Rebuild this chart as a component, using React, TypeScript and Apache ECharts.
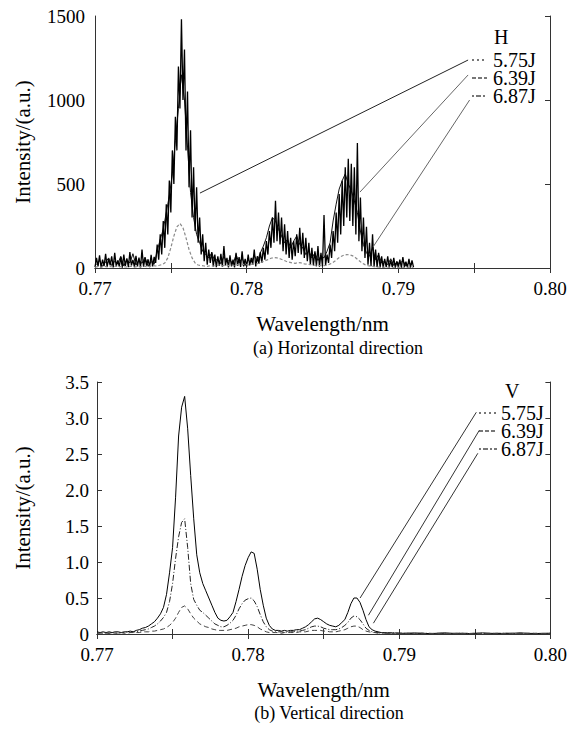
import React, { useEffect, useRef } from "react";
import * as echarts from "echarts";

// ---------- data ----------
// (a) Horizontal direction: intensity (a.u.) sampled across wavelength (nm)
const H_575_START = 0.77;
const H_575_STEP = 0.0001;
const H_575 = [
  5, 60, 10, 75, 3, 50, 12, 85, 6, 55,
  15, 70, 4, 90, 10, 45, 8, 65, 2, 80,
  12, 58, 5, 95, 15, 48, 6, 72, 10, 62,
  3, 110, 8, 60, 14, 52, 5, 78, 10, 66,
  30, 140, 50, 200, 80, 280, 120, 380, 200, 520,
  330, 700, 500, 900, 700, 1200, 950, 1480, 1000, 1300,
  700, 1050, 480, 820, 300, 600, 220, 480, 150, 300,
  80, 200, 40, 150, 20, 110, 30, 95, 10, 80,
  5, 70, 12, 85, 8, 130, 15, 60, 4, 75,
  10, 50, 3, 90, 12, 65, 6, 100, 10, 55,
  8, 80, 15, 60, 20, 110, 10, 70, 25, 95,
  30, 120, 50, 160, 80, 220, 120, 300, 150, 400,
  160, 330, 140, 300, 100, 260, 80, 220, 60, 180,
  50, 160, 70, 200, 90, 240, 80, 210, 60, 180,
  40, 150, 20, 120, 15, 100, 10, 130, 8, 90,
  10, 315, 15, 80, 30, 140, 60, 220, 100, 330,
  150, 440, 200, 520, 250, 600, 300, 650, 280, 620,
  250, 600, 200, 744, 160, 420, 100, 300, 60, 245,
  20, 150, 10, 200, 8, 110, 5, 90, 3, 70,
  2, 55, 5, 70, 3, 45, 6, 60, 2, 40,
  4, 50, 2, 65, 5, 38, 3, 55, 2, 45, 5,
];
const H_639_START = 0.7701;
const H_639_STEP = 0.0002;
const H_639 = [
  20, 45, 10, 35, 60, 15, 40, 25, 70, 12,
  50, 30, 85, 18, 44, 28, 65, 10, 38, 22,
  100, 170, 230, 330, 430, 560, 760, 950, 1150, 1000,
  720, 450, 300, 200, 150, 100, 80, 60, 90, 40,
  55, 25, 70, 35, 50, 20, 80, 30, 60, 15,
  45, 35, 75, 40, 90, 130, 180, 250, 300, 280,
  230, 190, 150, 170, 120, 160, 190, 140, 120, 80,
  100, 60, 90, 45, 70, 60, 100, 150, 280, 380,
  470, 520, 560, 500, 460, 400, 330, 220, 140, 90,
  70, 120, 50, 80, 30, 40, 20, 55, 15, 35,
  25, 45, 12, 30, 20,
];
const H_687_START = 0.77;
const H_687_STEP = 0.0002;
const H_687 = [
  5, 8, 4, 10, 6, 9, 5, 12, 7, 10,
  6, 8, 11, 5, 9, 7, 12, 8, 10, 15,
  12, 15, 20, 30, 60, 120, 190, 245, 265, 240,
  180, 110, 60, 30, 18, 15, 12, 10, 14, 12,
  15, 18, 13, 16, 14, 18, 15, 20, 17, 22,
  20, 18, 24, 22, 28, 35, 42, 50, 58, 62,
  60, 55, 48, 40, 35, 30, 28, 32, 30, 25,
  22, 20, 18, 16, 15, 14, 16, 20, 28, 40,
  55, 68, 76, 80, 78, 72, 60, 45, 30, 20,
  14, 10, 8, 6, 5, 6, 4, 5, 3, 6,
  4, 5, 3, 4, 5, 3,
];

// (b) Vertical direction: dense grid 0.770–0.790 (step 0.0002), tail 0.7905–0.800 (step 0.0005)
const V_DENSE_START = 0.77;
const V_DENSE_STEP = 0.0002;
const V_DENSE_COUNT = 101;
const V_TAIL_START = 0.7905;
const V_TAIL_STEP = 0.0005;
const V_TAIL_COUNT = 20;
const V_575 = [
  0.03, 0.02, 0.03, 0.02, 0.03, 0.02, 0.03, 0.03, 0.02, 0.03,
  0.03, 0.04, 0.03, 0.05, 0.06, 0.08, 0.09, 0.11, 0.14, 0.17,
  0.22, 0.28, 0.37, 0.55, 0.85, 1.2, 1.9, 2.75, 3.15, 3.3,
  2.85, 2.2, 1.6, 1.1, 0.85, 0.7, 0.6, 0.5, 0.4, 0.3,
  0.22, 0.19, 0.18, 0.19, 0.24, 0.3, 0.45, 0.62, 0.8, 0.95,
  1.06, 1.14, 1.12, 0.9, 0.62, 0.4, 0.22, 0.12, 0.07, 0.05,
  0.05, 0.04, 0.05, 0.04, 0.05, 0.05, 0.06, 0.06, 0.08, 0.1,
  0.13, 0.17, 0.21, 0.22, 0.2, 0.17, 0.14, 0.12, 0.11, 0.1,
  0.12, 0.16, 0.2, 0.3, 0.42, 0.5, 0.5, 0.44, 0.33, 0.2,
  0.1, 0.06, 0.04, 0.03, 0.02, 0.02, 0.015, 0.02, 0.01, 0.015,
  0.01,
  0.01, 0.015, 0.01, 0.005, 0.01, 0.015, 0.01, 0.01, 0.005, 0.01,
  0.015, 0.01, 0.005, 0.01, 0.01, 0.015, 0.01, 0.005, 0.01, 0.01,
];
const V_639 = [
  0.01, 0.02, 0.01, 0.02, 0.01, 0.02, 0.02, 0.01, 0.02, 0.02,
  0.03, 0.02, 0.03, 0.03, 0.04, 0.05, 0.06, 0.07, 0.09, 0.11,
  0.14, 0.18, 0.23, 0.3, 0.45, 0.7, 1.05, 1.35, 1.55, 1.6,
  1.2, 0.7, 0.48, 0.4, 0.33, 0.3, 0.26, 0.22, 0.18, 0.14,
  0.12, 0.1, 0.1, 0.12, 0.15, 0.19, 0.26, 0.35, 0.42, 0.47,
  0.49, 0.5, 0.46, 0.38, 0.27, 0.17, 0.1, 0.06, 0.04, 0.03,
  0.03, 0.03, 0.02, 0.03, 0.03, 0.03, 0.04, 0.04, 0.05, 0.06,
  0.08, 0.1, 0.11, 0.11, 0.1, 0.08, 0.07, 0.06, 0.06, 0.06,
  0.07, 0.09, 0.12, 0.16, 0.22, 0.25, 0.24, 0.2, 0.14, 0.08,
  0.05, 0.03, 0.02, 0.02, 0.01, 0.02, 0.01, 0.01, 0.02, 0.01,
  0.01,
  0.01, 0.005, 0.01, 0.01, 0.005, 0.01, 0.005, 0.01, 0.01, 0.005,
  0.01, 0.005, 0.01, 0.01, 0.005, 0.01, 0.005, 0.01, 0.005, 0.01,
];
const V_687 = [
  0.01, 0.01, 0.02, 0.01, 0.01, 0.02, 0.01, 0.01, 0.02, 0.01,
  0.01, 0.02, 0.02, 0.02, 0.02, 0.03, 0.03, 0.03, 0.04, 0.04,
  0.05, 0.06, 0.07, 0.09, 0.12, 0.16, 0.22, 0.3, 0.37, 0.39,
  0.35, 0.28, 0.22, 0.18, 0.14, 0.12, 0.1, 0.09, 0.07, 0.06,
  0.05, 0.05, 0.05, 0.05, 0.06, 0.07, 0.08, 0.1, 0.11, 0.12,
  0.13, 0.13, 0.12, 0.1, 0.07, 0.05, 0.03, 0.02, 0.02, 0.02,
  0.02, 0.01, 0.02, 0.02, 0.02, 0.02, 0.02, 0.03, 0.03, 0.03,
  0.04, 0.05, 0.05, 0.05, 0.05, 0.04, 0.04, 0.03, 0.03, 0.03,
  0.04, 0.05, 0.06, 0.08, 0.1, 0.11, 0.11, 0.09, 0.06, 0.04,
  0.03, 0.02, 0.02, 0.01, 0.02, 0.01, 0.01, 0.02, 0.01, 0.01,
  0.01,
  0.01, 0.005, 0.01, 0.005, 0.01, 0.01, 0.005, 0.01, 0.005, 0.01,
  0.005, 0.01, 0.01, 0.005, 0.01, 0.005, 0.01, 0.01, 0.005, 0.01,
];

// Legend labels and leader-line endpoints (wavelength, intensity)
const ENERGIES = ["5.75J", "6.39J", "6.87J"];
const H_LEADERS = [
  [[0.7946, 1238], [0.77692, 446]],
  [[0.7946, 1149], [0.78747, 452]],
  [[0.7947, 1000], [0.78833, 125]],
];
const V_LEADERS = [
  [[0.7951, 3.08], [0.78741, 0.5]],
  [[0.7953, 2.83], [0.78796, 0.26]],
  [[0.7952, 2.51], [0.78829, 0.15]],
];

const X_TICKS_MIN = 0.77;
const X_TICKS_MAX = 0.8;
const X_TICK_STEP = 0.01;
const H_Y_MAX = 1500;
const H_Y_STEP = 500;
const V_Y_MAX = 3.5;
const V_Y_STEP = 0.5;

// ---------- helpers ----------
const FONT = "serif";

function grid(start: number, step: number, n: number): number[] {
  const out: number[] = [];
  for (let i = 0; i < n; i++) out.push(Number((start + i * step).toFixed(5)));
  return out;
}
function pairs(xs: number[], ys: number[]) {
  return ys.map((y, i) => [xs[i], y]);
}

const V_X = [
  ...grid(V_DENSE_START, V_DENSE_STEP, V_DENSE_COUNT),
  ...grid(V_TAIL_START, V_TAIL_STEP, V_TAIL_COUNT),
];

function xAxes(gridIndex: number) {
  const common = {
    gridIndex,
    type: "value" as const,
    min: X_TICKS_MIN,
    max: X_TICKS_MAX,
    interval: X_TICK_STEP,
    splitLine: { show: false },
    axisLine: { show: true, lineStyle: { color: "#333", width: 1 } },
    axisTick: { show: true, inside: true, length: 5, lineStyle: { color: "#333" } },
    minorTick: { show: true, splitNumber: 2, length: 5, lineStyle: { color: "#333" } },
  };
  return [
    {
      ...common,
      position: "bottom",
      axisLabel: {
        formatter: (v: number) => v.toFixed(2),
        fontFamily: FONT,
        fontSize: 19,
        color: "#000",
        margin: 11,
      },
      name: "Wavelength/nm",
      nameLocation: "middle",
      nameGap: 45,
      nameTextStyle: { fontFamily: FONT, fontSize: 21, color: "#000" },
    },
    { ...common, position: "top", axisLabel: { show: false } },
  ];
}

function yAxes(gridIndex: number, max: number, step: number, leftTicks: boolean, fmt: (v: number) => string, gap: number, margin: number) {
  const common = {
    gridIndex,
    type: "value" as const,
    min: 0,
    max,
    interval: step,
    splitLine: { show: false },
    axisLine: { show: true, lineStyle: { color: "#333", width: 1 } },
  };
  return [
    {
      ...common,
      position: "left",
      axisTick: { show: leftTicks, inside: true, length: 5, lineStyle: { color: "#333" } },
      axisLabel: { formatter: fmt, fontFamily: FONT, fontSize: 19, color: "#000", margin },
      name: "Intensity/(a.u.)",
      nameLocation: "middle",
      nameGap: gap,
      nameRotate: 90,
      nameTextStyle: { fontFamily: FONT, fontSize: 21, color: "#000" },
    },
    {
      ...common,
      position: "right",
      axisTick: { show: true, inside: true, length: 5, lineStyle: { color: "#333" } },
      axisLabel: { show: false },
    },
  ];
}

function lineSeries(xi: number, yi: number, data: number[][], color: string, width: number, type: any, z = 2) {
  return {
    type: "line",
    xAxisIndex: xi,
    yAxisIndex: yi,
    data,
    symbol: "none",
    silent: true,
    z,
    lineStyle: { color, width, type },
  };
}

export default function App() {
  const ref = useRef<HTMLDivElement>(null);
  useEffect(() => {
    if (!ref.current) return;
    const chart = echarts.init(ref.current, undefined, { renderer: "svg" });

    const hLeaderColors = ["#222", "#666", "#666"];
    const vLeaderColors = ["#333", "#333", "#333"];

    const legendText = (x: number, y: number, text: string) => ({
      type: "text",
      x,
      y,
      style: { text, font: `20px ${FONT}`, fill: "#000", align: "left", verticalAlign: "middle" },
    });
    const legendMark = (x1: number, x2: number, y: number, dash: number[]) => ({
      type: "line",
      shape: { x1, y1: y, x2, y2: y },
      style: { stroke: "#777", lineWidth: 2, lineDash: dash },
    });

    const hLegY = [60, 78, 96];
    const vLegY = [413, 431, 449];
    const dashes = [[2, 3], [4, 2], [2, 2, 5, 2]];

    chart.setOption({
      animation: false,
      backgroundColor: "#fff",
      textStyle: { fontFamily: FONT },
      grid: [
        { left: 95, top: 16, width: 455, height: 252, containLabel: false },
        { left: 97, top: 382, width: 456, height: 252, containLabel: false },
      ],
      xAxis: [...xAxes(0), ...xAxes(1)],
      yAxis: [
        ...yAxes(0, H_Y_MAX, H_Y_STEP, false, (v: number) => String(v), 62, 10),
        ...yAxes(1, V_Y_MAX, V_Y_STEP, true, (v: number) => (v === 0 ? "0" : v.toFixed(1)), 64, 8),
      ],
      series: [
        lineSeries(0, 0, pairs(grid(H_639_START, H_639_STEP, H_639.length), H_639), "#111", 1, "solid"),
        lineSeries(0, 0, pairs(grid(H_575_START, H_575_STEP, H_575.length), H_575), "#000", 1.3, "solid"),
        lineSeries(0, 0, pairs(grid(H_687_START, H_687_STEP, H_687.length), H_687), "#8a8a8a", 1.2, [3, 2], 3),
        ...H_LEADERS.map((l, i) => lineSeries(0, 0, l, hLeaderColors[i], 1, "solid", 4)),
        lineSeries(2, 2, pairs(V_X, V_575), "#000", 1, "solid"),
        lineSeries(2, 2, pairs(V_X, V_639), "#222", 1, [6, 2, 1, 2]),
        lineSeries(2, 2, pairs(V_X, V_687), "#444", 1, [5, 3]),
        ...V_LEADERS.map((l, i) => lineSeries(2, 2, l, vLeaderColors[i], 1, "solid", 4)),
      ],
      graphic: [
        legendText(494, 37, "H"),
        ...ENERGIES.map((t, i) => legendText(493, hLegY[i], t)),
        ...ENERGIES.map((_, i) => legendMark(472, 487, hLegY[i], dashes[i])),
        legendText(505, 391, "V"),
        ...ENERGIES.map((t, i) => legendText(501, vLegY[i], t)),
        ...ENERGIES.map((_, i) => legendMark(479, 497, vLegY[i], dashes[i])),
        {
          type: "text",
          x: 338,
          y: 348,
          style: { text: "(a) Horizontal direction", font: `18px ${FONT}`, fill: "#000", align: "center", verticalAlign: "middle" },
        },
        {
          type: "text",
          x: 329,
          y: 713,
          style: { text: "(b) Vertical direction", font: `18px ${FONT}`, fill: "#000", align: "center", verticalAlign: "middle" },
        },
      ],
    });
    return () => chart.dispose();
  }, []);
  return <div ref={ref} style={{ position: "absolute", left: 0, top: 0, width: 570, height: 734 }} />;
}
